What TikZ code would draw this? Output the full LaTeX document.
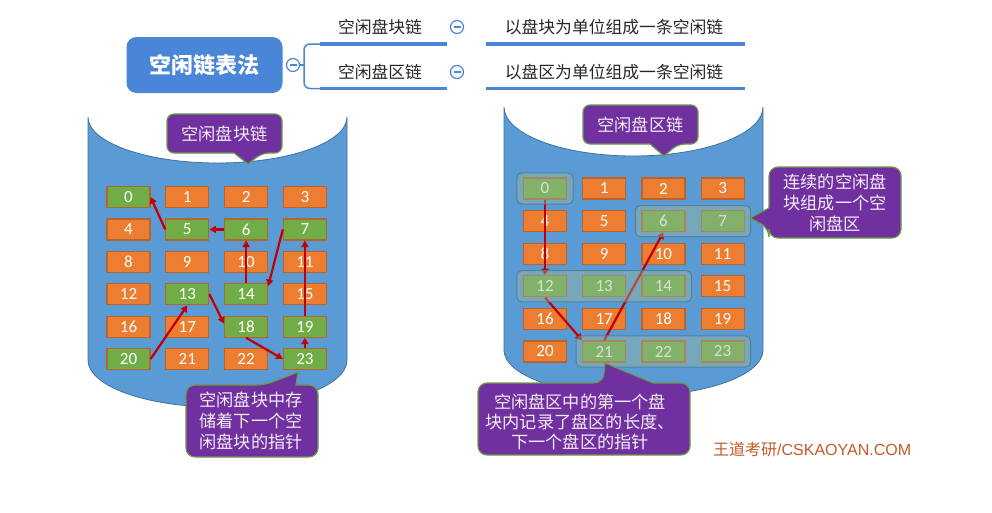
\documentclass[tikz,border=0pt]{standalone}
\usepackage{fontspec}
\setmainfont{Carlito}
\newfontfamily\cjk{Noto Sans CJK SC}
\newfontfamily\arialf{Liberation Sans}
\usetikzlibrary{calc,arrows.meta,fit}
\definecolor{cylblue}{HTML}{5B9BD5}
\definecolor{cyledge}{HTML}{41719C}
\definecolor{boxor}{HTML}{ED7D31}
\definecolor{boxgr}{HTML}{70AD47}
\definecolor{boxedge}{HTML}{B4642C}
\definecolor{purp}{HTML}{7030A0}
\definecolor{purpedge}{HTML}{6A9A4A}
\definecolor{arrred}{HTML}{C00000}
\definecolor{mmblue}{HTML}{4A86D8}
\definecolor{grp}{HTML}{9DB99A}
\definecolor{grpedge}{HTML}{4F7F90}
\definecolor{wmcol}{HTML}{C45A2A}
\definecolor{mmtext}{HTML}{262626}
\begin{document}
\begin{tikzpicture}[x=1pt,y=-1pt,
  blk/.style={draw=boxedge, line width=1.2pt, minimum width=43pt, minimum height=21pt, inner sep=0pt, text=white, font=\fontsize{17}{17}\selectfont},
  fb/.style={blk, fill=boxor},
  gb/.style={blk, fill=boxgr},
  link/.style={draw=arrred, line width=2.2pt, -{Triangle[length=6.5pt,width=7pt]}},
  cyl/.style={fill=cylblue, draw=cyledge, line width=0.8pt},
  callout/.style={fill=purp, draw=purpedge, line width=1.2pt},
  ctext/.style={text=white!92!purp, font=\cjk\fontsize{17.2}{21}\selectfont, align=center, inner sep=0pt},
  grpbox/.style={fill=grp, fill opacity=0.42, draw=grpedge, draw opacity=0.9, line width=1pt, rounded corners=5pt, inner xsep=6pt, inner ysep=4.5pt},
  mmlabel/.style={text=mmtext, font=\cjk\fontsize{16.8}{17}\selectfont, inner sep=0pt},
  mminus/.style={circle, draw=mmblue, fill=white, line width=1.2pt, minimum size=13pt, inner sep=0pt,
    path picture={\draw[mmblue, line width=1.2pt] ([xshift=-3.5pt]path picture bounding box.center) -- ([xshift=3.5pt]path picture bounding box.center);}},
  branch/.style={draw=mmblue, line width=1.5pt, rounded corners=6pt},
  uline/.style={draw=mmblue, line width=3.5pt},
]
\useasboundingbox (0,0) rectangle (992,512);

% ---------- mind map ----------
\node[fill=mmblue, rounded corners=10pt, minimum width=156pt, minimum height=56pt, text=white,
      font=\cjk\bfseries\fontsize{22}{22}\selectfont] (root) at (204.5,65) {空闲链表法};
\node[mminus] (c0) at (293,65) {};
\coordinate (bj) at (304,65);
\coordinate (u1a) at (320,44);  \coordinate (u1b) at (447,44);
\coordinate (u1c) at (486,44);  \coordinate (u1d) at (745,44);
\coordinate (u2a) at (320,88.5);  \coordinate (u2b) at (447,88.5);
\coordinate (u2c) at (486,88.5);  \coordinate (u2d) at (745,88.5);
\draw[branch] (c0.east) -- (bj);
\draw[branch] (u1a) -- (304,44) -- (304,88.5) -- (u2a);
\draw[uline] (u1a) -- (u1b);
\draw[uline] (u1c) -- (u1d);
\draw[uline] (u2a) -- (u2b);
\draw[uline] (u2c) -- (u2d);
\node[mmlabel] (b1) at (380,27) {空闲盘块链};
\node[mminus] (c1) at (457,27) {};
\node[mmlabel] (d1) at (614,27) {以盘块为单位组成一条空闲链};
\node[mmlabel] (b2) at (380,72) {空闲盘区链};
\node[mminus] (c2) at (457,72) {};
\node[mmlabel] (d2) at (614,72) {以盘区为单位组成一条空闲链};

% ---------- left cylinder ----------
\path[cyl] (88,117) -- (88,360) arc[start angle=180, end angle=360, x radius=129.5pt, y radius=47pt]
  -- (347,117) arc[start angle=0, end angle=-180, x radius=129.5pt, y radius=46pt] -- cycle;
\foreach \i/\s in {0/gb,1/fb,2/fb,3/fb,4/fb,5/gb,6/gb,7/gb,8/fb,9/fb,10/fb,11/fb,12/fb,13/gb,14/gb,15/fb,16/fb,17/fb,18/gb,19/gb,20/gb,21/fb,22/fb,23/gb}{
  \pgfmathtruncatemacro\cc{mod(\i,4)}
  \pgfmathtruncatemacro\rr{int(\i/4)}
  \node[\s] (L\i) at ({128.5+58.8*\cc},{197+32.4*\rr}) {\i};
}
\draw[link] (L20.east) -- (L13.south);
\draw[link] (L13.east) -- ($(L18.west)+(0,-3)$);
\draw[link] (L18.south) -- (L23.west);
\draw[link] (L23.north) -- (L19.south);
\draw[link] (L19.north) -- (L7.south);
\draw[link] (L7.west) -- ($(L14.north east)+(0,3)$);
\draw[link] (L14.north) -- (L6.south);
\draw[link] (L6.west) -- (L5.east);
\draw[link] (L5.west) -- (L0.east);

% ---------- right cylinder ----------
\path[cyl] (504,107) -- (504,350) arc[start angle=180, end angle=360, x radius=129.5pt, y radius=46pt]
  -- (763,107) arc[start angle=0, end angle=-180, x radius=129.5pt, y radius=49pt] -- cycle;
\foreach \i/\s in {0/gb,1/fb,2/fb,3/fb,4/fb,5/fb,6/gb,7/gb,8/fb,9/fb,10/fb,11/fb,12/gb,13/gb,14/gb,15/fb,16/fb,17/fb,18/fb,19/fb,20/fb,21/gb,22/gb,23/gb}{
  \pgfmathtruncatemacro\cc{mod(\i,4)}
  \pgfmathtruncatemacro\rr{int(\i/4)}
  \node[\s] (R\i) at ({545+59.2*\cc},{188.5+32.6*\rr}) {\i};
}
\draw[link] (R0.south) -- (R12.north);
\draw[link] (R12.south) -- (R21.north west);
\draw[link] (R21.north) -- (R6.south);
\node[grpbox, fit=(R0)] (G1) {};
\node[grpbox, fit=(R6)(R7)] (G2) {};
\node[grpbox, fit=(R12)(R14)] (G3) {};
\node[grpbox, fit=(R21)(R23)] (G4) {};

% ---------- callouts ----------
\draw[callout, rounded corners=7pt] (224,114) -- (282,114) -- (282,153) -- (262,153) [sharp corners] -- (248,164) -- (234,153) [rounded corners=7pt] -- (167,153) -- (167,114) -- cycle;
\node[ctext] (k1) at (224.5,133.5) {空闲盘块链};

\draw[callout, rounded corners=7pt] (640,105) -- (698,105) -- (698,144) -- (678,144) [sharp corners] -- (664,156) -- (650,144) [rounded corners=7pt] -- (583,144) -- (583,105) -- cycle;
\node[ctext] (k2) at (640.5,124.5) {空闲盘区链};

\draw[callout, rounded corners=9pt] (835,238) -- (769,238) -- (769,228) [sharp corners] -- (750,218) -- (769,208) [rounded corners=9pt] -- (769,167) -- (901,167) -- (901,238) -- cycle;
\node[ctext] (k3) at (835,202.5) {连续的空闲盘\\块组成一个空\\闲盘区};

\draw[callout, rounded corners=9pt] (252,457) -- (186,457) -- (186,385) -- (265,385) [sharp corners] -- (298,372) -- (296,385) [rounded corners=9pt] -- (318,385) -- (318,457) -- cycle;
\node[ctext] (k4) at (251,421) {空闲盘块中存\\储着下一个空\\闲盘块的指针};

\draw[callout, rounded corners=9pt] (584,455) -- (478,455) -- (478,383) -- (603,383) [sharp corners] -- (605,363) -- (653,383) [rounded corners=9pt] -- (690,383) -- (690,455) -- cycle;
\node[ctext, font=\cjk\fontsize{17.2}{20}\selectfont] (k5) at (580,422) {空闲盘区中的第一个盘\\块内记录了盘区的长度、\\下一个盘区的指针};

% ---------- watermark ----------
\node[text=wmcol, font=\fontsize{16}{16}\selectfont, anchor=west, inner sep=0pt] (wm) at (713,449) {{\cjk 王道考研}{\arialf /CSKAOYAN.COM}};
\end{tikzpicture}
\end{document}
